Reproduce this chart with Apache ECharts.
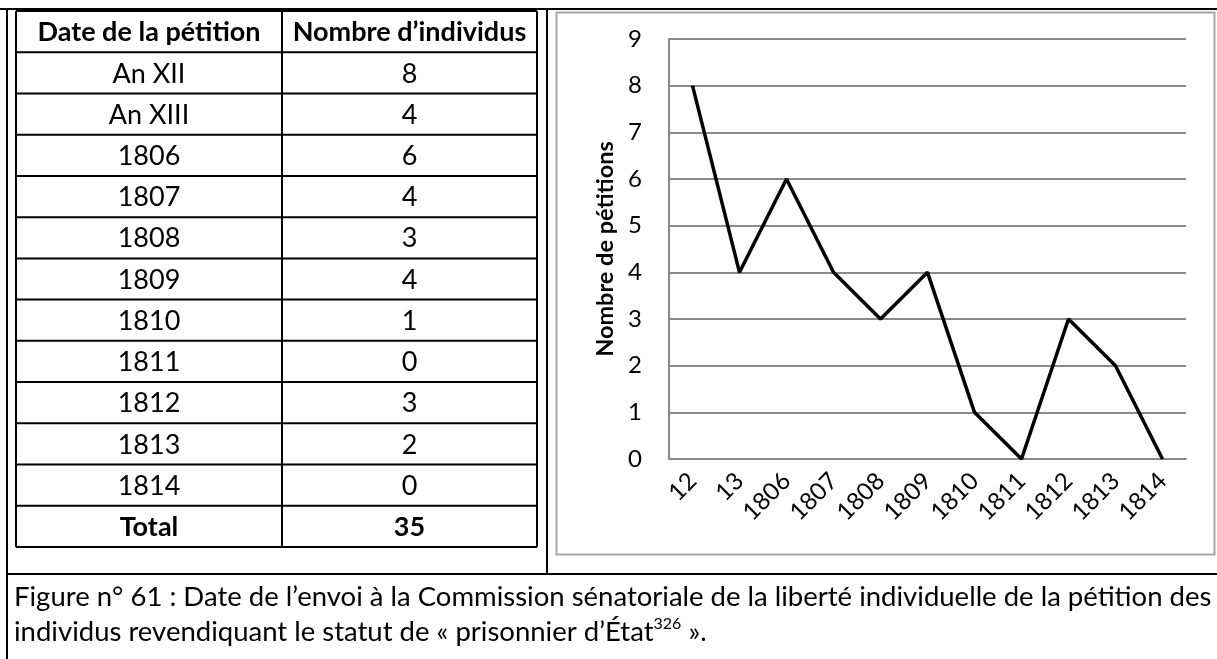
<!DOCTYPE html>
<html>
<head>
<meta charset="utf-8">
<script src="https://cdn.jsdelivr.net/npm/echarts@6/dist/echarts.min.js"></script>
<style>
html,body{margin:0;padding:0;background:#fff;}
#c{width:1217px;height:659px;}
</style>
</head>
<body>
<div id="c"></div>
<script>
// ---- data ----
const tableHeaders = ['Date de la pétition', 'Nombre d’individus'];
const tableDates = ['An XII', 'An XIII', '1806', '1807', '1808', '1809', '1810', '1811', '1812', '1813', '1814'];
const axisLabels = ['12', '13', '1806', '1807', '1808', '1809', '1810', '1811', '1812', '1813', '1814'];
const petitions = [8, 4, 6, 4, 3, 4, 1, 0, 3, 2, 0];
const totalLabel = 'Total';
const totalValue = 35;
const yTicks = [0, 1, 2, 3, 4, 5, 6, 7, 8, 9];
const yTitle = 'Nombre de pétitions';
const captionLine1 = 'Figure n° 61 : Date de l’envoi à la Commission sénatoriale de la liberté individuelle de la pétition des';
const captionLine2a = 'individus revendiquant le statut de « prisonnier d’État';
const captionSup = '326';
const captionLine2b = ' ».';

const FONT = 'Lato, "Open Sans", sans-serif';
const TFS = 27;

// ---- layout ----
const tX0 = 16, tX1 = 282, tX2 = 537, tY0 = 11, tY1 = 547;
const nRows = tableDates.length + 2;
const rowH = (tY1 - tY0) / nRows;

const g = [];
function line(x1, y1, x2, y2, w, c) {
  g.push({type: 'line', shape: {x1, y1, x2, y2}, style: {stroke: c || '#000', lineWidth: w || 2}, silent: true});
}
function txt(t, x, y, size, bold) {
  g.push({type: 'text', x, y, style: {text: t, font: (bold ? 'bold ' : '') + size + 'px ' + FONT, fill: '#000', textAlign: 'center', textVerticalAlign: 'middle'}, silent: true});
}
// outer frame
line(0, 9, 1217, 9, 2);
line(7, 8, 7, 659, 2);
line(547, 9, 547, 574, 2);
line(7, 574, 1217, 574, 2);
// table
for (let i = 0; i <= nRows; i++) {
  const y = tY0 + i * rowH;
  line(tX0, y, tX2, y, 2);
}
line(tX0, tY0, tX0, tY1, 2);
line(tX1, tY0, tX1, tY1, 2);
line(tX2, tY0, tX2, tY1, 2);
const c1 = (tX0 + tX1) / 2, c2 = (tX1 + tX2) / 2;
txt(tableHeaders[0], c1, tY0 + rowH / 2 + 1, TFS, true);
txt(tableHeaders[1], c2, tY0 + rowH / 2 + 1, TFS, true);
tableDates.forEach((d, i) => {
  const y = tY0 + (i + 1.5) * rowH + 1;
  txt(d, c1, y, TFS, false);
  txt(String(petitions[i]), c2, y, TFS, false);
});
txt(totalLabel, c1, tY0 + (nRows - 0.5) * rowH + 1, TFS, true);
txt(String(totalValue), c2, tY0 + (nRows - 0.5) * rowH + 1, TFS, true);
// chart box
g.push({type: 'rect', shape: {x: 556.5, y: 12.5, width: 658, height: 542}, style: {fill: 'none', stroke: '#a6a6a6', lineWidth: 2}, silent: true, z: -1});
// caption
g.push({type: 'text', x: 14, y: 597, style: {text: captionLine1, font: '27.5px ' + FONT, fill: '#000', textAlign: 'left', textVerticalAlign: 'middle'}, silent: true});
g.push({type: 'text', x: 14, y: 631, style: {
  text: '{a|' + captionLine2a + '}{s|' + captionSup + '}{a|' + captionLine2b + '}',
  textAlign: 'left', textVerticalAlign: 'middle',
  rich: {
    a: {fontSize: 27.5, fontFamily: FONT, fill: '#000', lineHeight: 30, verticalAlign: 'bottom'},
    s: {fontSize: 16, fontFamily: FONT, fill: '#000', lineHeight: 30, verticalAlign: 'top'}
  }
}, silent: true});

const chart = echarts.init(document.getElementById('c'), null, {renderer: 'canvas'});
chart.setOption({
  animation: false,
  backgroundColor: '#fff',
  grid: {left: 669, top: 39, width: 517, height: 420, containLabel: false},
  xAxis: {
    type: 'category', data: axisLabels, boundaryGap: true,
    axisLine: {show: true, lineStyle: {color: '#898989', width: 2}},
    axisTick: {show: false},
    axisLabel: {rotate: 45, margin: 18, fontSize: 24, fontFamily: FONT, color: '#000', interval: 0}
  },
  yAxis: {
    type: 'value', min: 0, max: 9, interval: 1,
    name: yTitle, nameLocation: 'middle', nameGap: 52,
    nameTextStyle: {fontSize: 23.5, fontWeight: 'bold', fontFamily: FONT, color: '#000'},
    axisLine: {show: true, lineStyle: {color: '#898989', width: 2}},
    axisTick: {show: false},
    axisLabel: {margin: 27, fontSize: 24, fontFamily: FONT, color: '#000',
      formatter: v => yTicks.includes(v) ? String(v) : ''},
    splitLine: {show: true, lineStyle: {color: '#898989', width: 2}}
  },
  series: [{
    type: 'line', data: petitions, showSymbol: false, symbol: 'none',
    lineStyle: {color: '#000', width: 3.5}, itemStyle: {color: '#000'}
  }],
  graphic: g
});
</script>
</body>
</html>
